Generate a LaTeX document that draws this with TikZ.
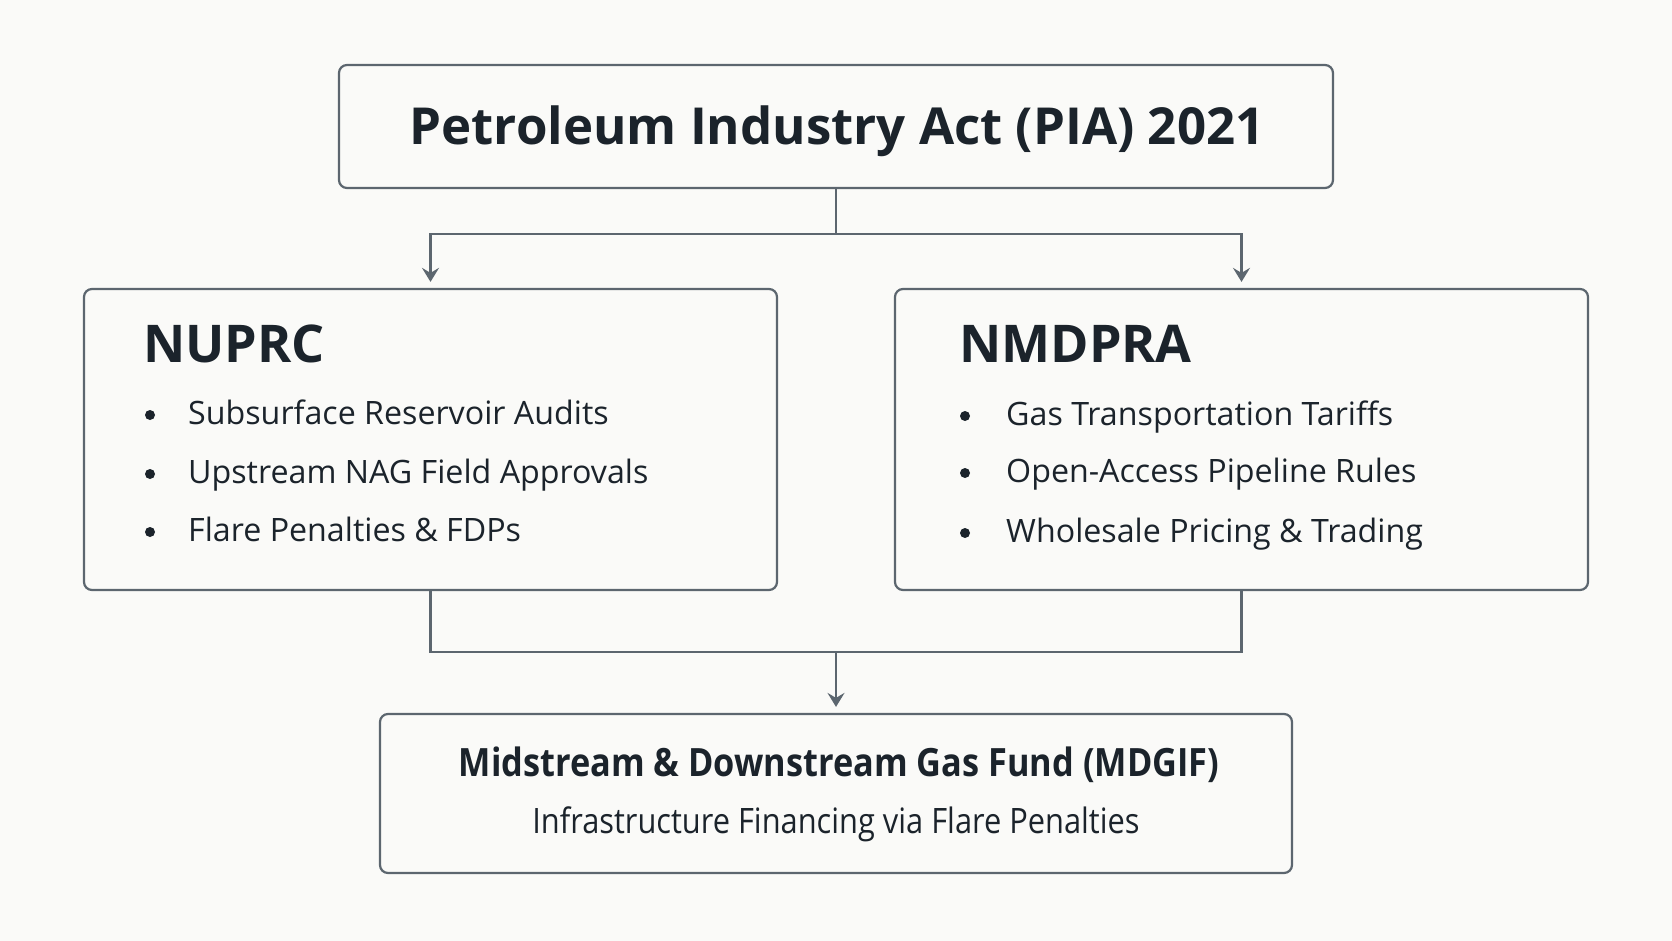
\documentclass[tikz,border=0pt]{standalone}
\usepackage{fontspec}
\setmainfont{Open Sans}
\newfontfamily\narrowfam[FakeStretch=0.88]{Open Sans}
\usetikzlibrary{arrows.meta}
\definecolor{bgc}{HTML}{FAFAF8}
\definecolor{linec}{HTML}{5C666F}
\definecolor{txtc}{HTML}{1B232B}
\tikzset{
  panel/.style={draw=linec, line width=2.2pt, rounded corners=8pt, fill=bgc, inner sep=0pt},
  conn/.style={draw=linec, line width=2.2pt},
  arr/.style={conn, -{Stealth[length=14pt,width=17pt,inset=5pt]}, shorten >=6pt},
  headtxt/.style={text=txtc, inner sep=0pt, font=\fontsize{52}{60}\selectfont\bfseries},
  itemtxt/.style={text=txtc, inner sep=0pt, anchor=base west, font=\fontsize{32.2}{40}\selectfont},
  bul/.style={circle, fill=txtc, inner sep=0pt, minimum size=10pt}
}
\begin{document}
\begin{tikzpicture}[x=1pt,y=-1pt]
\fill[bgc] (0,0) rectangle (1672,941);
\useasboundingbox (0,0) rectangle (1672,941);

% boxes
\node[panel, minimum width=994pt, minimum height=123pt] (pia) at (836,126.5) {};
\node[panel, minimum width=693pt, minimum height=301pt] (nuprc) at (430.5,439.5) {};
\node[panel, minimum width=693pt, minimum height=301pt] (nmdpra) at (1241.5,439.5) {};
\node[panel, minimum width=912pt, minimum height=159pt] (mdgif) at (836,793.5) {};

% texts
\node[headtxt, anchor=base, font=\fontsize{51}{60}\selectfont\bfseries] (piat) at (837,145) {Petroleum Industry Act (PIA) 2021};

\node[headtxt, anchor=base west] (nut) at (143,362) {NUPRC};
\node[bul] (nb1) at (150,415) {};
\node[itemtxt] (n1) at (188,424) {Subsurface Reservoir Audits};
\node[bul] (nb2) at (150,474) {};
\node[itemtxt] (n2) at (188,483) {Upstream NAG Field Approvals};
\node[bul] (nb3) at (150,532) {};
\node[itemtxt] (n3) at (188,541) {Flare Penalties \& FDPs};

\node[headtxt, anchor=base west] (nmt) at (959,362) {NMDPRA};
\node[bul] (mb1) at (965,416) {};
\node[itemtxt] (m1) at (1006,425) {Gas Transportation Tariffs};
\node[bul] (mb2) at (965,473) {};
\node[itemtxt] (m2) at (1006,482) {Open-Access Pipeline Rules};
\node[bul] (mb3) at (965,533) {};
\node[itemtxt] (m3) at (1006,542) {Wholesale Pricing \& Trading};

\node[text=txtc, inner sep=0pt, anchor=base, font=\narrowfam\fontsize{39}{46}\selectfont\bfseries] (mdt) at (839,776) {Midstream \& Downstream Gas Fund (MDGIF)};
\node[text=txtc, inner sep=0pt, anchor=base, font=\narrowfam\fontsize{35}{40}\selectfont] (mds) at (836,833) {Infrastructure Financing via Flare Penalties};

% connectors
\coordinate (split) at (836,234);
\coordinate (join) at (836,652);
\draw[conn] (pia.south) -- (split);
\draw[arr] (split) -| (nuprc.north);
\draw[arr] (split) -| (nmdpra.north);
\draw[conn] (nuprc.south) |- (join) -| (nmdpra.south);
\draw[arr] (join) -- (mdgif.north);
\end{tikzpicture}
\end{document}
